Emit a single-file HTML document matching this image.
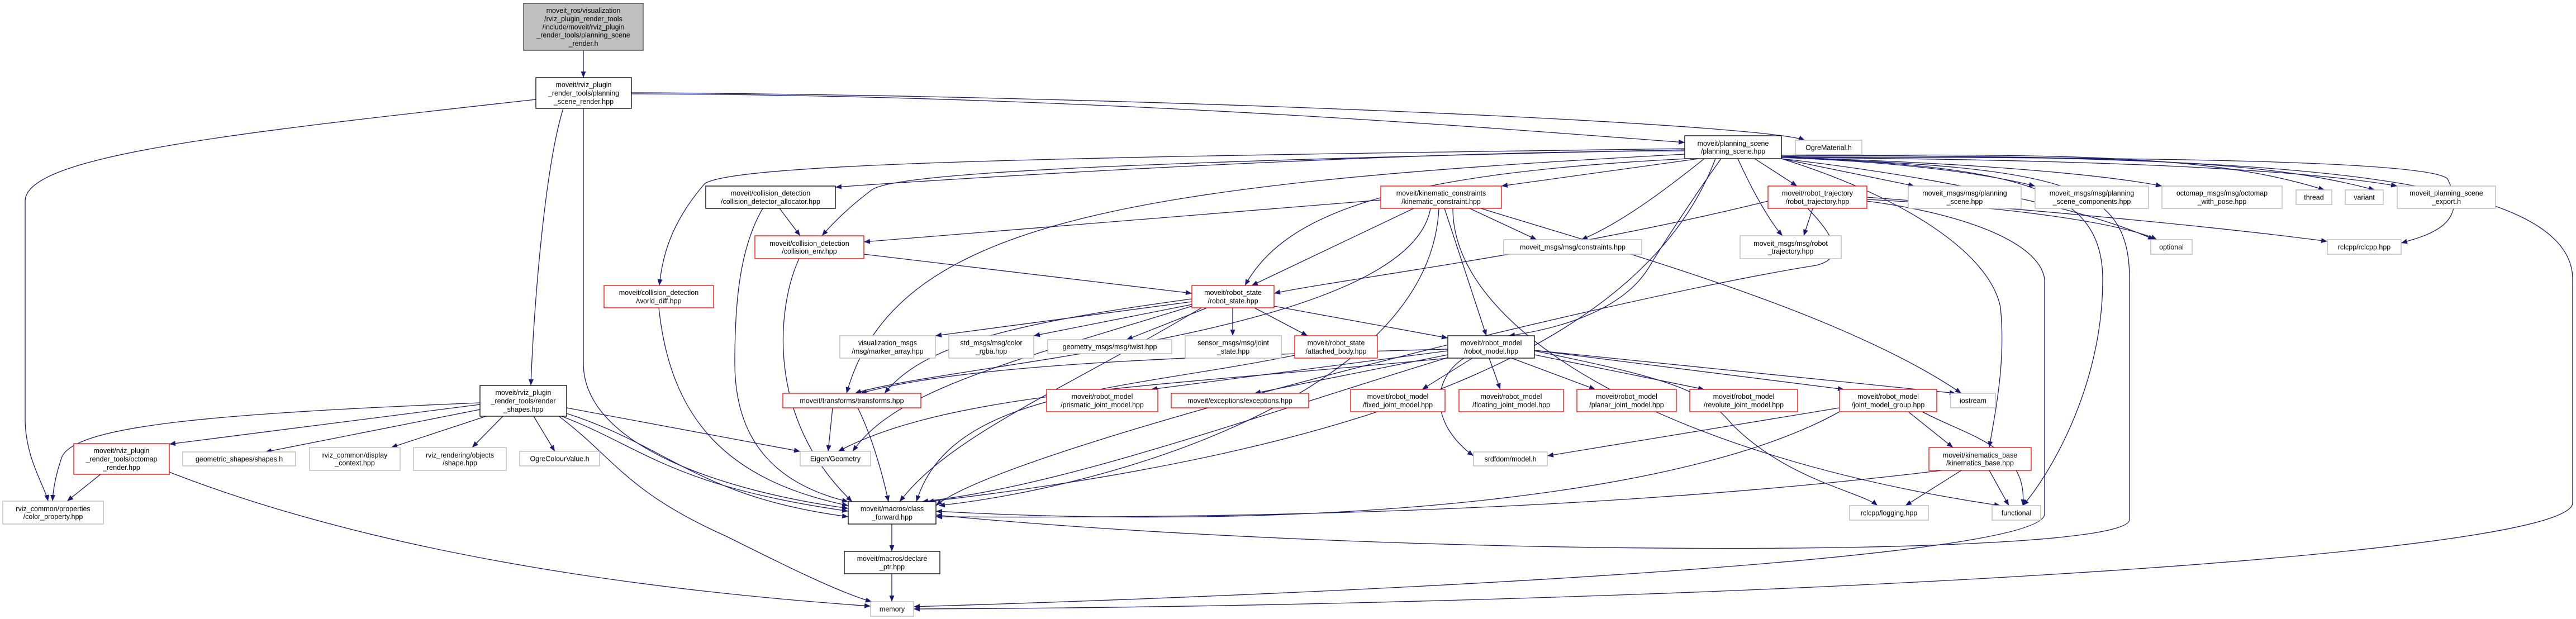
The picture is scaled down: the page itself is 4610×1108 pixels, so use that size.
<!DOCTYPE html>
<html><head><meta charset="utf-8"><style>
html,body{margin:0;padding:0;background:#fff;}
svg{display:block;}
text{font-family:"Liberation Sans",sans-serif;font-size:12.5px;fill:#000;text-anchor:middle;}
.e path{fill:none;stroke:#191970;stroke-width:1.3;marker-end:url(#a);}
.g{fill:#fff;stroke:#bfbfbf;stroke-width:1.5;}
.r{fill:#fff;stroke:#ff0000;stroke-width:1.3;}
.k{fill:#fff;stroke:#000;stroke-width:1.3;}
</style></head><body>
<svg width="4610" height="1108" viewBox="0 0 4610 1108" xmlns="http://www.w3.org/2000/svg">
<defs><marker id="a" markerUnits="userSpaceOnUse" markerWidth="12" markerHeight="10" refX="11" refY="4.5" orient="auto"><path d="M0,0 L11,4.5 L0,9 z" fill="#191970"/></marker></defs>
<g class="e">
<path d="M1044,90 L1044,139"/>
<path d="M1130,168 C2000,170 2800,240 3015,255"/>
<path d="M1130,166 C2000,170 3150,220 3230,251"/>
<path d="M1008,194 C975,300 955,550 950,690"/>
<path d="M959,178 C400,240 45,280 45,360 L45,750 C45,820 80,870 86,897"/>
<path d="M1044,194 L1044,650 C1044,800 1300,880 1518,910"/>
<path d="M859,721 C400,740 130,760 110,820 C100,850 95,875 94,897"/>
<path d="M859,724 L303,795"/>
<path d="M859,733 L475,809"/>
<path d="M870,745 L700,801"/>
<path d="M900,745 L845,801"/>
<path d="M955,745 L993,808"/>
<path d="M1014,730 L1432,808"/>
<path d="M1014,740 C1200,800 1250,890 1518,925"/>
<path d="M1005,745 C1150,800 1200,870 1518,915"/>
<path d="M1000,745 C1100,820 1120,880 1300,960 C1400,1010 1500,1060 1560,1077"/>
<path d="M180,849 L120,897"/>
<path d="M303,845 C700,1000 1200,1060 1558,1085"/>
<path d="M3015,270 C2500,270 1700,320 1495,335"/>
<path d="M3015,268 C2000,290 1600,310 1560,340 C1520,370 1490,400 1471,422"/>
<path d="M3015,266 C2000,280 1300,290 1260,330 C1200,400 1185,460 1180,511"/>
<path d="M3040,284 L2687,333"/>
<path d="M3020,284 C2500,310 2300,380 2228,511"/>
<path d="M3050,284 C2980,340 2900,400 2830,429"/>
<path d="M3140,284 L3216,333"/>
<path d="M3110,284 C3140,350 3170,400 3190,422"/>
<path d="M3188,284 L3426,333"/>
<path d="M3188,282 C3400,290 3550,310 3642,333"/>
<path d="M3188,282 C3500,290 3750,310 3869,333"/>
<path d="M3188,280 C3800,270 4000,290 4160,340"/>
<path d="M3188,280 C3900,275 4100,300 4250,340"/>
<path d="M3188,282 C3700,285 4100,300 4290,333"/>
<path d="M3188,284 C3500,320 3750,380 3855,429"/>
<path d="M3188,282 C3900,280 4350,290 4380,320 C4420,400 4350,420 4297,435"/>
<path d="M3080,284 C3040,340 2980,430 2950,480 C2900,560 2780,590 2700,601"/>
<path d="M3015,276 C2000,330 1600,400 1515,704"/>
<path d="M3070,284 C2950,600 2500,800 1660,898"/>
<path d="M3188,278 C4000,280 4604,300 4604,500 L4604,900 C4604,1000 3000,1085 1635,1090"/>
<path d="M3188,280 C3600,300 3763,330 3763,500 C3763,700 3660,860 3620,905"/>
<path d="M3188,284 C3400,350 3560,450 3580,550 C3590,650 3570,740 3560,801"/>
<path d="M3188,282 C3700,300 3811,330 3811,500 L3811,930 C3811,1000 2500,1000 1675,922"/>
<path d="M2471,358 L1546,433"/>
<path d="M2530,373 L2240,511"/>
<path d="M2630,373 L2750,429"/>
<path d="M2585,373 L2660,601"/>
<path d="M2560,373 C2520,600 1700,650 1530,704"/>
<path d="M2575,373 C2560,700 2000,870 1680,905"/>
<path d="M2650,373 C2900,450 3300,560 3510,704"/>
<path d="M2600,373 C2600,600 3000,820 3580,905"/>
<path d="M1395,373 L1432,422"/>
<path d="M1365,373 C1320,450 1315,560 1315,650 C1315,800 1400,870 1518,898"/>
<path d="M1546,455 L2133,525"/>
<path d="M1430,463 C1390,550 1370,750 1525,898"/>
<path d="M1179,551 C1200,750 1300,860 1518,905"/>
<path d="M2133,540 L1674,601"/>
<path d="M2133,545 L1850,601"/>
<path d="M2160,551 L2016,608"/>
<path d="M2206,551 L2206,601"/>
<path d="M2245,551 L2340,601"/>
<path d="M2280,548 L2591,605"/>
<path d="M2133,535 C1800,580 1650,620 1583,704"/>
<path d="M2133,548 C1800,650 1600,700 1526,808"/>
<path d="M2150,551 C1900,700 1700,780 1610,898"/>
<path d="M2317,636 C2000,700 1700,700 1640,898"/>
<path d="M2591,628 L2060,697"/>
<path d="M2591,635 L2245,704"/>
<path d="M2635,641 L2545,697"/>
<path d="M2665,641 L2685,697"/>
<path d="M2705,641 L2855,697"/>
<path d="M2746,635 L3050,697"/>
<path d="M2746,627 L3300,697"/>
<path d="M2746,627 L3500,704"/>
<path d="M2620,641 C2560,680 2560,760 2637,816"/>
<path d="M2746,628 C3000,680 3050,700 3100,760 C3200,860 3330,880 3360,905"/>
<path d="M2591,625 C2000,640 1700,660 1540,704"/>
<path d="M2591,641 C2100,690 1700,700 1500,808"/>
<path d="M2591,640 C2200,760 1900,870 1650,898"/>
<path d="M3292,730 L2769,816"/>
<path d="M3415,737 L3495,801"/>
<path d="M3440,737 C3520,780 3630,800 3620,905"/>
<path d="M3292,737 C3000,900 2300,950 1675,915"/>
<path d="M3510,842 L3410,905"/>
<path d="M3560,842 L3595,905"/>
<path d="M3475,842 C3000,900 2400,930 1675,925"/>
<path d="M3244,373 L3228,422"/>
<path d="M3164,360 C2800,450 2400,500 2280,525"/>
<path d="M3341,357 C3600,370 3800,400 3860,429"/>
<path d="M3341,353 C3700,380 4000,410 4165,432"/>
<path d="M3341,360 C3500,380 3650,430 3659,500 L3659,920 C3659,1000 2500,1060 1635,1086"/>
<path d="M3235,373 C3300,440 3290,465 3250,475 C2900,530 1800,800 1675,905"/>
<path d="M1490,730 L1482,808"/>
<path d="M1535,730 C1560,780 1580,850 1590,898"/>
<path d="M1596,938 L1596,987"/>
<path d="M1596,1027 L1596,1077"/>
</g>
<g>
<rect x="937" y="6" width="214" height="84" fill="#bfbfbf" stroke="#404040" stroke-width="1.3"/>
<text x="1044" y="23">moveit_ros/visualization</text><text x="1044" y="38">/rviz_plugin_render_tools</text><text x="1044" y="52.5">/include/moveit/rviz_plugin</text><text x="1044" y="67">_render_tools/planning_scene</text><text x="1044" y="82">_render.h</text>
<rect class="k" x="959" y="139" width="171" height="55"/><text x="1044.5" y="156">moveit/rviz_plugin</text><text x="1044.5" y="171">_render_tools/planning</text><text x="1044.5" y="186">_scene_render.hpp</text>
<rect class="k" x="3015" y="243" width="173" height="41"/><text x="3101.5" y="261">moveit/planning_scene</text><text x="3101.5" y="275">/planning_scene.hpp</text>
<rect class="g" x="3213" y="251" width="119" height="26"/><text x="3272.5" y="268.5">OgreMaterial.h</text>
<rect class="k" x="1263" y="333" width="232" height="40"/><text x="1379" y="350">moveit/collision_detection</text><text x="1379" y="365">/collision_detector_allocator.hpp</text>
<rect class="r" x="1351" y="422" width="195" height="41"/><text x="1448.5" y="440">moveit/collision_detection</text><text x="1448.5" y="454">/collision_env.hpp</text>
<rect class="r" x="1081" y="511" width="196" height="40"/><text x="1179" y="528">moveit/collision_detection</text><text x="1179" y="543">/world_diff.hpp</text>
<rect class="r" x="2471" y="333" width="216" height="40"/><text x="2579" y="350">moveit/kinematic_constraints</text><text x="2579" y="365">/kinematic_constraint.hpp</text>
<rect class="r" x="2133" y="511" width="147" height="40"/><text x="2206.5" y="528">moveit/robot_state</text><text x="2206.5" y="543">/robot_state.hpp</text>
<rect class="g" x="2691" y="429" width="247" height="26"/><text x="2814.5" y="446.5">moveit_msgs/msg/constraints.hpp</text>
<rect class="r" x="3164" y="333" width="177" height="40"/><text x="3252.5" y="350">moveit/robot_trajectory</text><text x="3252.5" y="365">/robot_trajectory.hpp</text>
<rect class="g" x="3114" y="422" width="181" height="41"/><text x="3204.5" y="440">moveit_msgs/msg/robot</text><text x="3204.5" y="454">_trajectory.hpp</text>
<rect class="g" x="3415" y="333" width="202" height="40"/><text x="3516" y="350">moveit_msgs/msg/planning</text><text x="3516" y="365">_scene.hpp</text>
<rect class="g" x="3642" y="333" width="203" height="40"/><text x="3743.5" y="350">moveit_msgs/msg/planning</text><text x="3743.5" y="365">_scene_components.hpp</text>
<rect class="g" x="3869" y="333" width="215" height="40"/><text x="3976.5" y="350">octomap_msgs/msg/octomap</text><text x="3976.5" y="365">_with_pose.hpp</text>
<rect class="g" x="4109" y="340" width="64" height="26"/><text x="4141" y="357.5">thread</text>
<rect class="g" x="4197" y="340" width="68" height="26"/><text x="4231" y="357.5">variant</text>
<rect class="g" x="4290" y="333" width="176" height="40"/><text x="4378" y="350">moveit_planning_scene</text><text x="4378" y="365">_export.h</text>
<rect class="g" x="3849" y="429" width="74" height="26"/><text x="3886" y="446.5">optional</text>
<rect class="g" x="4165" y="429" width="132" height="26"/><text x="4231" y="446.5">rclcpp/rclcpp.hpp</text>
<rect class="k" x="859" y="690" width="155" height="55"/><text x="936.5" y="707">moveit/rviz_plugin</text><text x="936.5" y="722">_render_tools/render</text><text x="936.5" y="737">_shapes.hpp</text>
<rect class="r" x="132" y="794" width="171" height="55"/><text x="217.5" y="811">moveit/rviz_plugin</text><text x="217.5" y="826">_render_tools/octomap</text><text x="217.5" y="841">_render.hpp</text>
<rect class="g" x="5" y="897" width="180" height="41"/><text x="95" y="915">rviz_common/properties</text><text x="95" y="929">/color_property.hpp</text>
<rect class="g" x="327" y="809" width="202" height="25"/><text x="428" y="826">geometric_shapes/shapes.h</text>
<rect class="g" x="554" y="801" width="162" height="41"/><text x="635" y="819">rviz_common/display</text><text x="635" y="833">_context.hpp</text>
<rect class="g" x="740" y="801" width="166" height="41"/><text x="823" y="819">rviz_rendering/objects</text><text x="823" y="833">/shape.hpp</text>
<rect class="g" x="930" y="808" width="143" height="26"/><text x="1001.5" y="825.5">OgreColourValue.h</text>
<rect class="g" x="1432" y="808" width="126" height="26"/><text x="1495" y="825.5">Eigen/Geometry</text>
<rect class="r" x="1401" y="704" width="247" height="26"/><text x="1524.5" y="721.5">moveit/transforms/transforms.hpp</text>
<rect class="k" x="1518" y="898" width="157" height="40"/><text x="1596.5" y="915">moveit/macros/class</text><text x="1596.5" y="930">_forward.hpp</text>
<rect class="k" x="1511" y="987" width="171" height="40"/><text x="1596.5" y="1004">moveit/macros/declare</text><text x="1596.5" y="1019">_ptr.hpp</text>
<rect class="g" x="1558" y="1077" width="77" height="26"/><text x="1596.5" y="1094.5">memory</text>
<rect class="g" x="1503" y="601" width="171" height="40"/><text x="1588.5" y="618">visualization_msgs</text><text x="1588.5" y="633">/msg/marker_array.hpp</text>
<rect class="g" x="1698" y="601" width="152" height="40"/><text x="1774" y="618">std_msgs/msg/color</text><text x="1774" y="633">_rgba.hpp</text>
<rect class="g" x="1875" y="608" width="222" height="25"/><text x="1986" y="625">geometry_msgs/msg/twist.hpp</text>
<rect class="g" x="2121" y="601" width="172" height="40"/><text x="2207" y="618">sensor_msgs/msg/joint</text><text x="2207" y="633">_state.hpp</text>
<rect class="r" x="2317" y="601" width="148" height="40"/><text x="2391" y="618">moveit/robot_state</text><text x="2391" y="633">/attached_body.hpp</text>
<rect class="k" x="2591" y="601" width="155" height="40"/><text x="2668.5" y="618">moveit/robot_model</text><text x="2668.5" y="633">/robot_model.hpp</text>
<rect class="r" x="1873" y="697" width="199" height="40"/><text x="1972.5" y="714">moveit/robot_model</text><text x="1972.5" y="729">/prismatic_joint_model.hpp</text>
<rect class="r" x="2096" y="704" width="246" height="26"/><text x="2219" y="721.5">moveit/exceptions/exceptions.hpp</text>
<rect class="r" x="2417" y="697" width="169" height="40"/><text x="2501.5" y="714">moveit/robot_model</text><text x="2501.5" y="729">/fixed_joint_model.hpp</text>
<rect class="r" x="2611" y="697" width="187" height="40"/><text x="2704.5" y="714">moveit/robot_model</text><text x="2704.5" y="729">/floating_joint_model.hpp</text>
<rect class="r" x="2822" y="697" width="178" height="40"/><text x="2911" y="714">moveit/robot_model</text><text x="2911" y="729">/planar_joint_model.hpp</text>
<rect class="r" x="3024" y="697" width="193" height="40"/><text x="3120.5" y="714">moveit/robot_model</text><text x="3120.5" y="729">/revolute_joint_model.hpp</text>
<rect class="r" x="3292" y="697" width="174" height="40"/><text x="3379" y="714">moveit/robot_model</text><text x="3379" y="729">/joint_model_group.hpp</text>
<rect class="g" x="3491" y="704" width="80" height="26"/><text x="3531" y="721.5">iostream</text>
<rect class="g" x="2637" y="809" width="132" height="25"/><text x="2703" y="826">srdfdom/model.h</text>
<rect class="r" x="3452" y="801" width="183" height="41"/><text x="3543.5" y="819">moveit/kinematics_base</text><text x="3543.5" y="833">/kinematics_base.hpp</text>
<rect class="g" x="3310" y="905" width="141" height="26"/><text x="3380.5" y="922.5">rclcpp/logging.hpp</text>
<rect class="g" x="3565" y="905" width="87" height="26"/><text x="3608.5" y="922.5">functional</text>
</g>
</svg>
</body></html>
